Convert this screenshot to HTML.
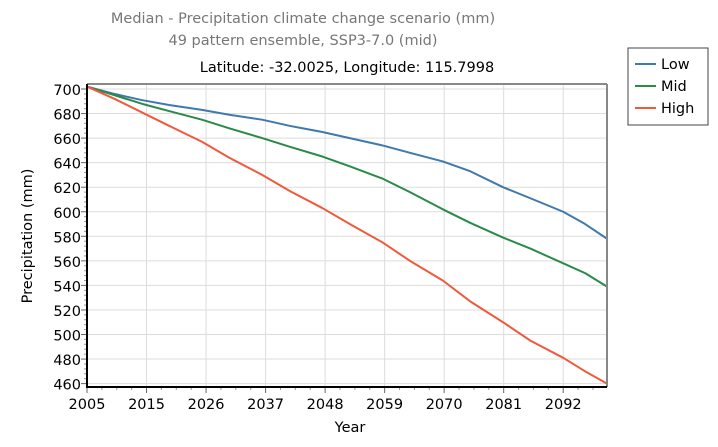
<!DOCTYPE html>
<html><head><meta charset="utf-8"><style>
body{margin:0;background:#fff;font-family:"Liberation Sans",sans-serif}
svg text{font-family:"DejaVu Sans","Liberation Sans",sans-serif}
</style></head><body>
<svg id="c" width="718" height="442" xmlns="http://www.w3.org/2000/svg">
<text x="303" y="23" text-anchor="middle" font-size="14.5" fill="#777">Median - Precipitation climate change scenario (mm)</text>
<text x="303" y="45" text-anchor="middle" font-size="14.5" fill="#777">49 pattern ensemble, SSP3-7.0 (mid)</text>
<text x="347" y="72" text-anchor="middle" font-size="14.5" fill="#000">Latitude: -32.0025, Longitude: 115.7998</text>
<g id="grid"></g><g id="series"></g><g id="axes"></g>
<text transform="translate(32,236) rotate(-90)" text-anchor="middle" font-size="14.5">Precipitation (mm)</text>
<text x="350" y="432" text-anchor="middle" font-size="14.5">Year</text>
<g>
<rect x="628" y="48" width="80" height="77" fill="#fff" stroke="#444"/>
<line x1="635" y1="64" x2="656" y2="64" stroke="#3f79ad" stroke-width="2"/><text x="661" y="69" font-size="14.5">Low</text>
<line x1="635" y1="86" x2="656" y2="86" stroke="#2a8a4a" stroke-width="2"/><text x="661" y="91" font-size="14.5">Mid</text>
<line x1="635" y1="108" x2="656" y2="108" stroke="#f05a3c" stroke-width="2"/><text x="661" y="113" font-size="14.5">High</text>
</g>
</svg>
<script>
const years=[2005,2010,2015,2020,2026,2031,2037,2042,2048,2053,2059,2064,2070,2075,2081,2086,2092,2096,2100];
const lowVals=[702,696,691,687,683,679,675,670,665,660,654,648,641,633,620,611,600,590,578];
const midVals=[702,695,688,682,675,668,660,653,645,637,627,616,602,591,579,570,558,550,539];
const highVals=[702,692,681,670,657,644,630,617,603,590,575,560,544,527,510,495,481,470,460];
const yTicks=[460,480,500,520,540,560,580,600,620,640,660,680,700];
const xTickLabels=["2005","2015","2026","2037","2048","2059","2070","2081","2092"];
const L=87,R=607,T=84,B=387;
const x=v=>L+(v-2005)/(2100-2005)*(R-L);
const y=v=>89+(700-v)/20*24.55;
const NS="http://www.w3.org/2000/svg";
function mk(tag,attrs,parent){const e=document.createElementNS(NS,tag);for(const k in attrs)e.setAttribute(k,attrs[k]);parent.appendChild(e);return e;}
const g=document.getElementById('grid'),s=document.getElementById('series'),a=document.getElementById('axes');
mk('rect',{x:L,y:T,width:R-L,height:B-T,fill:'#fff'},g);
yTicks.forEach(t=>{const l=mk('line',{x1:L,x2:R,y1:y(t),y2:y(t),stroke:'#ddd'},g);

const tx=mk('text',{x:L-6,y:y(t)+6,'text-anchor':'end','font-size':14.5},a);tx.textContent=t;

for(let k=1;k<5;k++){const yy=y(t)+k*24.55/5;if(yy<B)mk('line',{x1:L-3,x2:L,y1:yy,y2:yy,stroke:'#999'},a);}
mk('line',{x1:L-6,x2:L,y1:y(t),y2:y(t),stroke:'#666'},a);});
xTickLabels.forEach((lab,i)=>{const xv=2005+i*10.875,px=x(xv);
const l=mk('line',{x1:px,x2:px,y1:T,y2:B,stroke:'#ddd'},g);

mk('line',{x1:px,x2:px,y1:B,y2:B+6,stroke:'#666'},a);
for(let k=1;k<4;k++){const xx=px+k*10.875/4*(R-L)/95;if(xx<R)mk('line',{x1:xx,x2:xx,y1:B,y2:B+3,stroke:'#999'},a);}
const tx=mk('text',{x:px,y:B+22,'text-anchor':'middle','font-size':14.5},a);tx.textContent=lab;
});
[[lowVals,'#3f79ad','low'],[midVals,'#2a8a4a','mid'],[highVals,'#f05a3c','high']].forEach(([vals,c,n])=>{
const p=mk('polyline',{points:vals.map((v,i)=>x(years[i])+','+y(v)).join(' '),fill:'none',stroke:c,'stroke-width':2,'stroke-linejoin':'round'},s);
});
mk('line',{x1:L,x2:R,y1:T,y2:T,stroke:'#888','stroke-width':2},a);
mk('line',{x1:R,x2:R,y1:T,y2:B,stroke:'#888','stroke-width':2},a);
mk('line',{x1:L,x2:L,y1:T,y2:B+1,stroke:'#000','stroke-width':2},a);
mk('line',{x1:L-1,x2:R,y1:B,y2:B,stroke:'#000','stroke-width':2},a);
</script>
</body></html>
